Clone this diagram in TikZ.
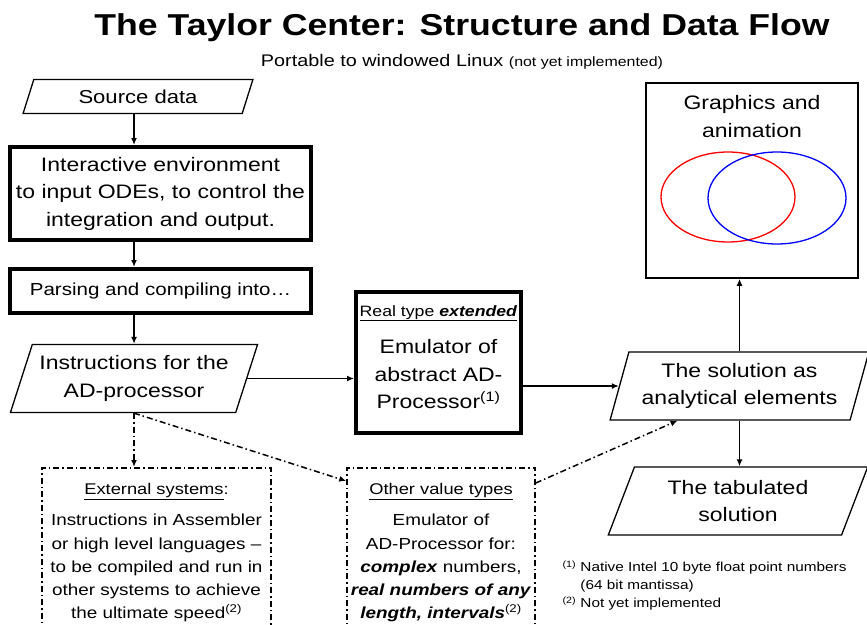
\documentclass[tikz,border=0pt]{standalone}
\usepackage{fontspec}
\setmainfont{Liberation Sans}[FakeStretch=1.18]
\usetikzlibrary{shapes.geometric,arrows.meta}

\newcommand\txttitle{\fontsize{30.2}{36}\selectfont\bfseries}
\newcommand\txtsub{\fontsize{16.8}{20}\selectfont}
\newcommand\txtmain{\fontsize{19.5}{27.5}\selectfont}
\newcommand\txtsmall{\fontsize{16}{23.2}\selectfont}
\newcommand\txthead{\fontsize{15.5}{18}\selectfont}
\newcommand\txtnote{\fontsize{13}{18}\selectfont}

\tikzset{
  thickbox/.style={draw, line width=4pt, inner sep=0pt, align=center},
  iobox/.style={draw, line width=1.3pt, trapezium, trapezium stretches=true,
    trapezium left angle=66, trapezium right angle=114, inner sep=0pt, align=center},
  dashbox/.style={draw, line width=1.5pt, dash pattern=on 6pt off 3pt on 1.5pt off 3pt},
  arr/.style={line width=1.5pt, -{Latex[length=7pt,width=6pt]}},
  dasharr/.style={line width=1.5pt, dash pattern=on 6pt off 3pt on 1.5pt off 3pt,
    -{Latex[length=7pt,width=6pt]}}
}

\begin{document}
\begin{tikzpicture}[x=1pt,y=-1pt]
\useasboundingbox (0,0) rectangle (867,624);

% heading
\node[font=\txttitle] (title) at (462,28) {The Taylor Center: Structure and Data Flow};
\node[font=\txtsub] (sub) at (462,62) {Portable to windowed Linux {\fontsize{13.5}{16}\selectfont (not yet implemented)}};

% left column
\node[iobox, minimum width=230pt, minimum height=34pt, font=\fontsize{18.7}{22}\selectfont] (src) at (138,96.5) {Source data};
\node[thickbox, minimum width=301pt, minimum height=93pt, font=\txtmain] (inter) at (160.5,193.5)
  {Interactive environment\\to input ODEs, to control the\\integration and output.};
\node[thickbox, minimum width=301pt, minimum height=44pt, font=\fontsize{17.4}{20}\selectfont] (pars) at (160.5,291) {Parsing and compiling into…};
\node[iobox, minimum width=248pt, minimum height=68pt, font=\txtmain] (ins) at (134,378.5) {Instructions for the\\AD-processor};

% emulator
\node[thickbox, minimum width=165pt, minimum height=141pt] (emu) at (438.5,362.5) {};
\node[align=center, font=\txtmain] (emutxt) at (438.5,357)
  {{\fontsize{15}{18}\selectfont\underline{Real type \textbf{\textit{extended}}}}\\[10pt]Emulator of\\abstract AD-\\Processor\textsuperscript{(1)}};

% right column
\node[draw, line width=1.5pt, minimum width=212pt, minimum height=195pt] (gfx) at (752,180.5) {};
\node[align=center, font=\txtmain] (gfxtxt) at (752,116.5) {Graphics and\\animation};
\draw[red, line width=1.3pt] (728,197) ellipse [x radius=67, y radius=45];
\draw[blue, line width=1.3pt] (777,198) ellipse [x radius=69, y radius=46];

\node[iobox, trapezium left angle=70, trapezium right angle=110, minimum width=259pt, minimum height=68pt, font=\txtmain] (sol) at (739.5,386)
  {The solution as\\analytical elements};
\node[iobox, trapezium left angle=67, trapezium right angle=113, minimum width=260pt, minimum height=68pt, font=\txtmain] (tab) at (738,501)
  {The tabulated\\solution};

% other targets
\node[dashbox, minimum width=229pt, minimum height=180pt, anchor=north] (ext) at (156.5,467) {};
\node[align=center, font=\txtsmall, anchor=north] (exttxt) at (156.5,480)
  {{\txthead\underline{External systems}:}\\[8pt]Instructions in Assembler\\or high level languages –\\to be compiled and run in\\other systems to achieve\\the ultimate speed\textsuperscript{(2)}};
\node[dashbox, minimum width=188pt, minimum height=180pt, anchor=north] (oth) at (441,467) {};
\node[align=center, font=\txtsmall, anchor=north] (othtxt) at (441,480)
  {{\txthead\underline{Other value types}}\\[8pt]Emulator of\\AD-Processor for:\\\textbf{\textit{complex}} numbers,\\\textbf{\textit{real numbers of any}}\\\textbf{\textit{length, intervals}}\textsuperscript{(2)}};

% footnotes
\node[anchor=north west, align=left, font=\txtnote] (notes) at (559,557)
  {\textsuperscript{(1)} Native Intel 10 byte float point numbers\\\hphantom{\textsuperscript{(1)} }(64 bit mantissa)\\\textsuperscript{(2)} Not yet implemented};

% flow
\draw[arr] (src.south -| ins.north) -- (inter.north -| ins.north);
\draw[arr] (inter.south -| ins.north) -- (pars.north -| ins.north);
\draw[arr] (pars.south -| ins.north) -- (ins.north);
\draw[arr] (ins.east) -- (ins.east -| emu.west);
\draw[arr] (sol.west -| emu.east) -- (sol.west);
\draw[arr] (sol.north) -- (sol.north |- gfx.south);
\draw[arr] (sol.south) -- (sol.south |- tab.north);
\draw[dasharr] (ins.south) -- (ins.south |- ext.north);
\draw[dasharr] (ins.south) -- ([yshift=-14pt]oth.north west);
\draw[dasharr] ([yshift=-16pt]oth.north east) -- ([xshift=-62pt]sol.south);
\end{tikzpicture}
\end{document}
